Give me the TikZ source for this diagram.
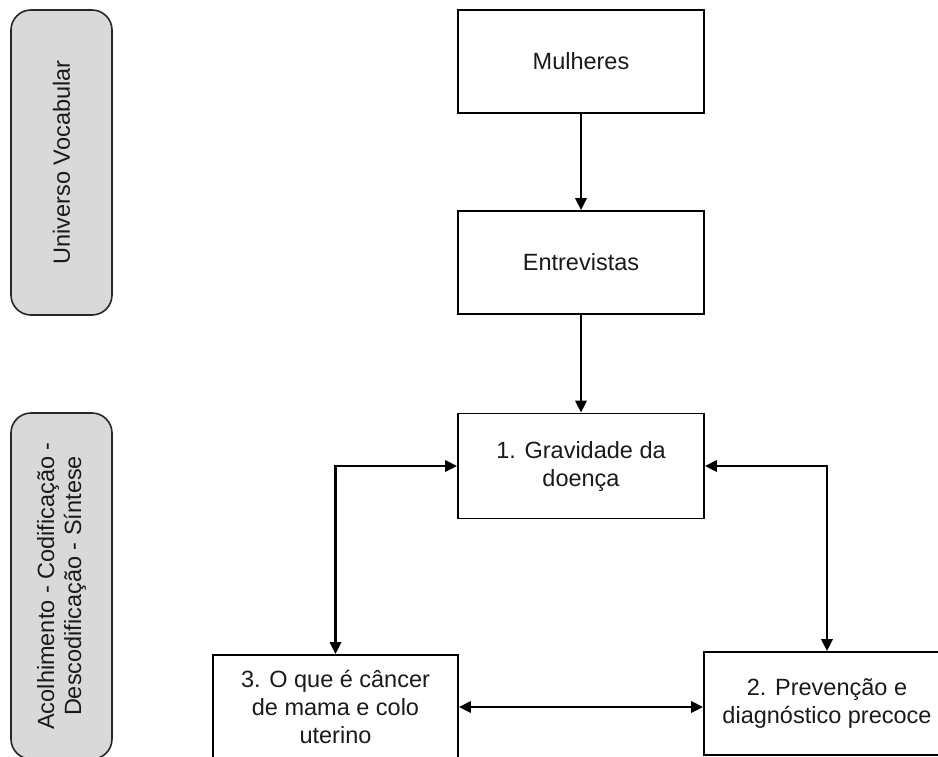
\documentclass[tikz,border=0pt]{standalone}
\usepackage{fontspec}
\setmainfont{Liberation Sans}
\usetikzlibrary{arrows.meta}
\definecolor{boxgray}{HTML}{D9D9D9}
\definecolor{txt}{HTML}{1A1A1A}
\tikzset{
  plainbox/.style={draw=black, line width=1.6pt, rectangle, align=center, text=txt,
    font=\fontsize{23.5}{28}\selectfont, inner sep=0pt},
  sidebox/.style={draw=black!85, fill=boxgray, line width=1.6pt, rectangle, rounded corners=20pt,
    align=center, text=txt, font=\fontsize{23.5}{27}\selectfont, inner sep=0pt, rotate=90},
  conn/.style={line width=2.8pt, -{Triangle[length=12pt,width=11pt]}},
  bconn/.style={line width=2.8pt, {Triangle[length=12pt,width=11pt]}-{Triangle[length=12pt,width=11pt]}}
}
\begin{document}
\begin{tikzpicture}[x=1pt,y=-1pt]
\useasboundingbox (0,0) rectangle (938,756);
\clip (0,0) rectangle (938,756);
\node[sidebox, minimum width=305, minimum height=101] (uv) at (61.5,162.5) {Universo Vocabular};
\node[sidebox, minimum width=346, minimum height=101] (ac) at (61.5,586) {Acolhimento - Codificação -\\Descodificação - Síntese};
\node[plainbox, minimum width=246, minimum height=103] (mul) at (581,61.5) {Mulheres};
\node[plainbox, minimum width=246, minimum height=103] (ent) at (581,262.5) {Entrevistas};
\node[plainbox, minimum width=246, minimum height=105] (grav) at (581,466) {1. Gravidade da\\doença};
\node[plainbox, minimum width=245, minimum height=104] (c3) at (335.5,707) {3. O que é câncer\\de mama e colo\\uterino};
\node[plainbox, minimum width=246, minimum height=103] (c2) at (827,703.5) {2. Prevenção e\\diagnóstico precoce};
\draw[conn] (mul) -- (ent);
\draw[conn] (ent) -- (grav);
\draw[bconn] (grav.west) -| (c3.north);
\draw[bconn] (grav.east) -| (c2.north);
\draw[bconn] (c3.east) -- (c3.east -| c2.west);
\end{tikzpicture}
\end{document}
